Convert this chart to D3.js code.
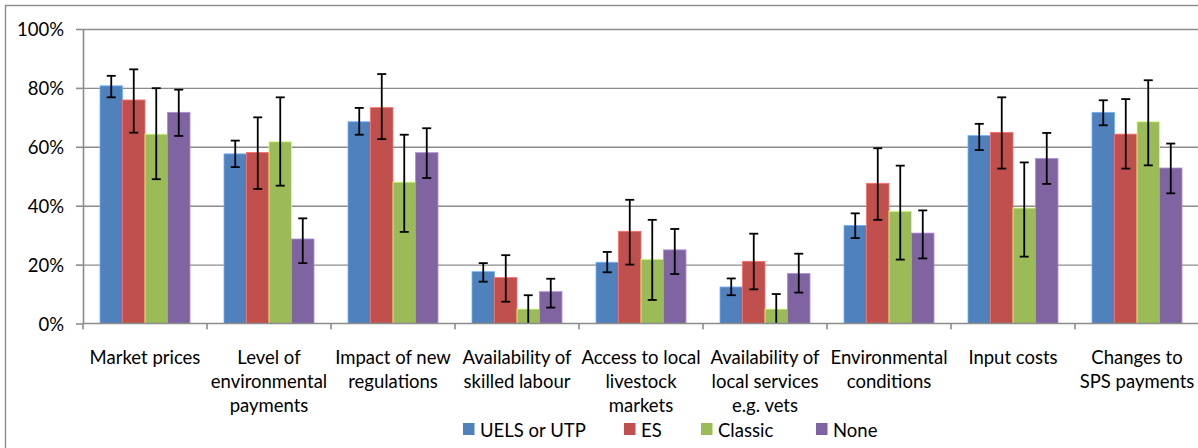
<!DOCTYPE html>
<html lang="en">
  <head>
    <meta charset="UTF-8" />
    <title>Factors influencing farm decisions by scheme</title>
    <script src="https://cdnjs.cloudflare.com/ajax/libs/d3/7.9.0/d3.min.js"></script>
    <style>
      html,
      body {
        margin: 0;
        padding: 0;
        background: #ffffff;
      }
      svg {
        display: block;
        font-family: Lato, "Liberation Sans", Arial, sans-serif;
      }
      .grid line {
        stroke: #8c8c8c;
        stroke-width: 1.4px;
      }
      .axis path,
      .axis line {
        stroke: #8c8c8c;
        stroke-width: 1.6px;
      }
      .label {
        font-size: 18.5px;
        fill: #000;
      }
      .err {
        stroke: #000;
        stroke-width: 1.8px;
      }
    </style>
  </head>
  <body>
    <svg id="chart" width="1198" height="448"></svg>

    <script>
      /* --------------------- Data --------------------- */
      const categories = [
        ["Market prices"],
        ["Level of", "environmental", "payments"],
        ["Impact of new", "regulations"],
        ["Availability of", "skilled labour"],
        ["Access to local", "livestock", "markets"],
        ["Availability of", "local services", "e.g. vets"],
        ["Environmental", "conditions"],
        ["Input costs"],
        ["Changes to", "SPS payments"],
      ];

      const seriesNames = ["UELS or UTP", "ES", "Classic", "None"];
      const seriesColors = ["#4f81bd", "#c0504d", "#9bbb59", "#8064a2"];

      // share of farms (%), one array per series, in category order
      const uelsValues = [80.7, 57.6, 68.5, 17.6, 20.8, 12.4, 33.3, 63.8, 71.7];
      const esValues = [75.9, 58.1, 73.3, 15.6, 31.3, 21.1, 47.6, 64.9, 64.3];
      const classicValues = [64.3, 61.7, 48.0, 4.9, 21.8, 4.9, 38.1, 39.2, 68.5];
      const noneValues = [71.7, 28.7, 58.0, 10.8, 25.0, 17.0, 30.7, 56.0, 52.8];

      // error bar ends (upper / lower)
      const uelsHigh = [84.1, 62.1, 73.2, 20.5, 24.3, 15.3, 37.4, 67.8, 75.8];
      const uelsLow = [76.8, 53.1, 64.1, 14.2, 17.4, 9.6, 29.0, 58.9, 67.3];
      const esHigh = [86.3, 70.0, 84.7, 23.2, 42.0, 30.5, 59.5, 76.8, 76.2];
      const esLow = [64.8, 45.7, 62.6, 7.4, 20.0, 11.6, 35.2, 52.6, 52.6];
      const classicHigh = [79.9, 76.8, 64.1, 9.6, 35.2, 10.0, 53.6, 54.7, 82.6];
      const classicLow = [49.0, 46.8, 31.1, 0, 8.0, 0, 21.7, 22.7, 53.7];
      const noneHigh = [79.4, 35.7, 66.3, 15.2, 32.1, 23.7, 38.4, 64.7, 61.1];
      const noneLow = [63.7, 20.5, 49.4, 5.4, 16.8, 10.5, 22.1, 47.4, 44.2];

      const yTicks = [0, 20, 40, 60, 80, 100];

      const seriesValues = [uelsValues, esValues, classicValues, noneValues];
      const seriesHigh = [uelsHigh, esHigh, classicHigh, noneHigh];
      const seriesLow = [uelsLow, esLow, classicLow, noneLow];

      /* --------------------- Layout --------------------- */
      const svg = d3.select("#chart");
      const plot = { left: 83, right: 1199, top: 29, bottom: 323.5 };

      const catKeys = categories.map((c) => c.join(" "));
      const x0 = d3
        .scaleBand()
        .domain(catKeys)
        .range([plot.left, plot.right]);
      const x1 = d3
        .scaleBand()
        .domain(seriesNames)
        .range([17, x0.bandwidth() - 17]);
      const y = d3
        .scaleLinear()
        .domain([0, 100])
        .range([plot.bottom, plot.top]);

      // outer chart border (right / bottom edges fall outside the picture)
      svg
        .append("rect")
        .attr("x", 5.5)
        .attr("y", 5.5)
        .attr("width", 1210)
        .attr("height", 460)
        .attr("fill", "#fff")
        .attr("stroke", "#8c8c8c")
        .attr("stroke-width", 1.4);

      /* ---------- gridlines ---------- */
      svg
        .append("g")
        .attr("class", "grid")
        .attr("transform", `translate(${plot.left},0)`)
        .call(
          d3
            .axisLeft(y)
            .tickValues(yTicks.filter((t) => t > 0))
            .tickSize(-(plot.right - plot.left))
            .tickFormat("")
        )
        .call((g) => g.select(".domain").remove());

      /* ---------- bars ---------- */
      const rows = [];
      categories.forEach((c, i) => {
        seriesNames.forEach((s, j) => {
          rows.push({
            cat: catKeys[i],
            series: s,
            color: seriesColors[j],
            value: seriesValues[j][i],
            hi: seriesHigh[j][i],
            lo: seriesLow[j][i],
          });
        });
      });

      svg
        .append("g")
        .selectAll("rect")
        .data(rows)
        .join("rect")
        .attr("x", (d) => x0(d.cat) + x1(d.series))
        .attr("y", (d) => y(d.value))
        .attr("width", x1.bandwidth())
        .attr("height", (d) => y(0) - y(d.value))
        .attr("fill", (d) => d.color)
        .attr("stroke", (d) => d3.color(d.color).brighter(0.9))
        .attr("stroke-width", 0.8);

      /* ---------- error bars ---------- */
      const errG = svg
        .append("g")
        .selectAll("g")
        .data(rows)
        .join("g")
        .attr("class", "err")
        .attr(
          "transform",
          (d) => `translate(${x0(d.cat) + x1(d.series) + x1.bandwidth() / 2},0)`
        );
      errG
        .append("line")
        .attr("y1", (d) => y(d.hi))
        .attr("y2", (d) => y(d.lo));
      errG
        .append("line")
        .attr("x1", -4.5)
        .attr("x2", 4.5)
        .attr("y1", (d) => y(d.hi))
        .attr("y2", (d) => y(d.hi));
      errG
        .filter((d) => d.lo > 0)
        .append("line")
        .attr("x1", -4.5)
        .attr("x2", 4.5)
        .attr("y1", (d) => y(d.lo))
        .attr("y2", (d) => y(d.lo));

      /* ---------- axes ---------- */
      const yAxis = svg
        .append("g")
        .attr("class", "axis")
        .attr("transform", `translate(${plot.left},0)`)
        .call(
          d3
            .axisLeft(y)
            .tickValues(yTicks)
            .tickSize(7)
            .tickSizeOuter(0)
            .tickPadding(12)
            .tickFormat((d) => d + "%")
        );
      yAxis
        .selectAll("text")
        .attr("class", "label")
        .attr("font-family", null)
        .attr("font-size", null)
        .attr("dy", "0.36em");
      yAxis.attr("font-family", null).attr("font-size", null);

      const xAxis = svg.append("g").attr("class", "axis");
      xAxis
        .append("line")
        .attr("x1", plot.left)
        .attr("x2", plot.right)
        .attr("y1", y(0))
        .attr("y2", y(0));
      xAxis
        .selectAll("line.tick")
        .data(catKeys)
        .join("line")
        .attr("class", "tick")
        .attr("x1", (d) => x0(d))
        .attr("x2", (d) => x0(d))
        .attr("y1", y(0))
        .attr("y2", y(0) + 6);

      // category labels, wrapped as in the original
      svg
        .append("g")
        .selectAll("text")
        .data(categories)
        .join("text")
        .attr("class", "label")
        .attr("text-anchor", "middle")
        .attr("x", (d, i) => x0(catKeys[i]) + x0.bandwidth() / 2)
        .attr("y", 363.5)
        .selectAll("tspan")
        .data((d) => d)
        .join("tspan")
        .attr("x", function () {
          return this.parentNode.getAttribute("x");
        })
        .attr("dy", (d, i) => (i === 0 ? 0 : 24.4))
        .text((d) => d);

      /* ---------- legend ---------- */
      const legendX = [463, 624, 701, 816];
      const legend = svg
        .append("g")
        .selectAll("g")
        .data(seriesNames)
        .join("g")
        .attr("transform", (d, i) => `translate(${legendX[i]},423)`);
      legend
        .append("rect")
        .attr("width", 11.5)
        .attr("height", 12)
        .attr("fill", (d, i) => seriesColors[i]);
      legend
        .append("text")
        .attr("class", "label")
        .attr("x", 17)
        .attr("y", 13.5)
        .text((d) => d);
    </script>
  </body>
</html>
